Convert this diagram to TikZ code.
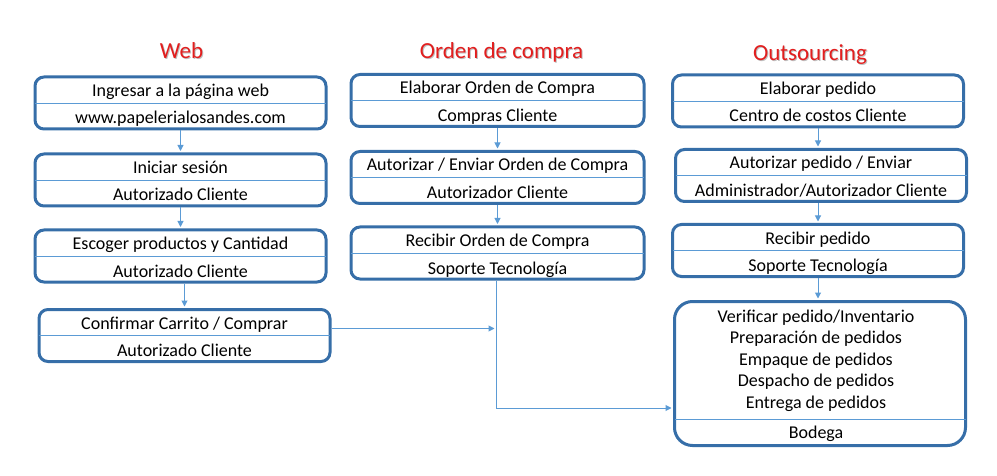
\documentclass[tikz,border=0pt]{standalone}
\usepackage{fontspec}
\setmainfont{Carlito}
\usepackage{tikz}
\usetikzlibrary{arrows.meta}

\definecolor{borde}{RGB}{54,110,168}
\definecolor{linea}{RGB}{91,155,213}
\definecolor{rojo}{RGB}{226,30,30}

\begin{document}
\begin{tikzpicture}[x=1pt, y=-1pt,
	caja/.style={draw=borde, line width=3pt, rounded corners=9pt, minimum width=291pt, minimum height=52pt, inner sep=0pt},
	texto/.style={font=\fontsize{18}{22}\selectfont, anchor=base, inner sep=0pt},
	titulo/.style={font=\fontsize{23}{27}\selectfont, text=rojo, anchor=base, inner sep=0pt},
	sombra/.style={font=\fontsize{23}{27}\selectfont, text=black!25, anchor=base, inner sep=0pt},
	divisor/.style={draw=linea, line width=0.9pt, shorten <=1.5pt, shorten >=1.5pt},
	flecha/.style={draw=linea, line width=1pt, shorten >=1.5pt, -{Triangle[length=6pt, width=6pt]}}]
		\useasboundingbox (0,0) rectangle (997,476);
		% titles
		\node[sombra] (tws) at (182.5,59.5) {Web};
		\node[titulo] (tw) at (181.5,58.5) {Web};
		\node[sombra] (tos) at (502.5,59.5) {Orden de compra};
		\node[titulo] (to) at (501.5,58.5) {Orden de compra};
		\node[sombra] (tss) at (811,61.5) {Outsourcing};
		\node[titulo] (ts) at (810,60.5) {Outsourcing};
		% web1
		\node[caja] (w1) at (180.5,103) {};
		\draw[divisor] (w1.west) -- (w1.east);
		\node[texto] (w1a) at ([yshift=6.5pt]w1.center) {Ingresar a la página web};
		\node[texto] (w1b) at ([yshift=-21pt]w1.center) {www.papelerialosandes.com};
		% web2
		\node[caja] (w2) at (180.5,180) {};
		\draw[divisor] (w2.west) -- (w2.east);
		\node[texto] (w2a) at ([yshift=6.5pt]w2.center) {Iniciar sesión};
		\node[texto] (w2b) at ([yshift=-21pt]w2.center) {Autorizado Cliente};
		% web3
		\node[caja] (w3) at (180.5,256) {};
		\draw[divisor] (w3.west) -- (w3.east);
		\node[texto] (w3a) at ([yshift=6.5pt]w3.center) {Escoger productos y Cantidad};
		\node[texto] (w3b) at ([yshift=-21pt]w3.center) {Autorizado Cliente};
		% web4
		\node[caja] (w4) at (184.5,335.5) {};
		\draw[divisor] (w4.west) -- (w4.east);
		\node[texto] (w4a) at ([yshift=6.5pt]w4.center) {Confirmar Carrito / Comprar};
		\node[texto] (w4b) at ([yshift=-21pt]w4.center) {Autorizado Cliente};
		% orden1
		\node[caja, minimum width=293pt] (o1) at (497.5,100.5) {};
		\draw[divisor] (o1.west) -- (o1.east);
		\node[texto] (o1a) at ([yshift=6.5pt]o1.center) {Elaborar Orden de Compra};
		\node[texto] (o1b) at ([yshift=-21pt]o1.center) {Compras Cliente};
		% orden2
		\node[caja, minimum width=293pt] (o2) at (497.5,177.5) {};
		\draw[divisor] (o2.west) -- (o2.east);
		\node[texto] (o2a) at ([yshift=6.5pt]o2.center) {Autorizar / Enviar Orden de Compra};
		\node[texto] (o2b) at ([yshift=-21pt]o2.center) {Autorizador Cliente};
		% orden3
		\node[caja, minimum width=293pt] (o3) at (497.5,253) {};
		\draw[divisor] (o3.west) -- (o3.east);
		\node[texto] (o3a) at ([yshift=6.5pt]o3.center) {Recibir Orden de Compra};
		\node[texto] (o3b) at ([yshift=-21pt]o3.center) {Soporte Tecnología};
		% outsourcing1
		\node[caja] (s1) at (818,101) {};
		\draw[divisor] (s1.west) -- (s1.east);
		\node[texto] (s1a) at ([yshift=6.5pt]s1.center) {Elaborar pedido};
		\node[texto] (s1b) at ([yshift=-21pt]s1.center) {Centro de costos Cliente};
		% outsourcing2
		\node[caja] (s2) at (821,175.5) {};
		\draw[divisor] (s2.west) -- (s2.east);
		\node[texto] (s2a) at ([yshift=6.5pt]s2.center) {Autorizar pedido / Enviar};
		\node[texto] (s2b) at ([yshift=-21pt]s2.center) {Administrador/Autorizador Cliente};
		% outsourcing3
		\node[caja] (s3) at (818,250.5) {};
		\draw[divisor] (s3.west) -- (s3.east);
		\node[texto] (s3a) at ([yshift=6.5pt]s3.center) {Recibir pedido};
		\node[texto] (s3b) at ([yshift=-21pt]s3.center) {Soporte Tecnología};
		% bodega
		\node[caja, rounded corners=18pt, minimum height=144pt] (s4) at (820,373.5) {};
		\draw[divisor] ([yshift=-45.5pt]s4.west) -- ([yshift=-45.5pt]s4.east);
		\node[texto] (s4a) at (816,322) {Verificar pedido/Inventario};
		\node[texto] (s4b) at (816,343.5) {Preparación de pedidos};
		\node[texto] (s4c) at (816,365) {Empaque de pedidos};
		\node[texto] (s4d) at (816,386.5) {Despacho de pedidos};
		\node[texto] (s4e) at (816,408) {Entrega de pedidos};
		\node[texto] (s4f) at (816,438) {Bodega};
		% arrows
		\draw[flecha] (w1) -- (w2);
		\draw[flecha] (w2) -- (w3);
		\draw[flecha] (w3.south -| w4.north) -- (w4.north);
		\draw[flecha] (o1) -- (o2);
		\draw[flecha] (o2) -- (o3);
		\draw[flecha] (s1.south) -- (s1.south |- s2.north);
		\draw[flecha] (s2.south -| s3.north) -- (s3.north);
		\draw[flecha] (s3.south) -- (s3.south |- s4.north);
		%join
		\coordinate (bajada) at ([xshift=-1.5pt]o3.south);
		\draw[flecha] ([yshift=7pt]w4.east) -- ([yshift=7pt]w4.east -| bajada);
		\draw[flecha] (bajada) |- ([yshift=-34.5pt]s4.west);
	\end{tikzpicture}
\end{document}
